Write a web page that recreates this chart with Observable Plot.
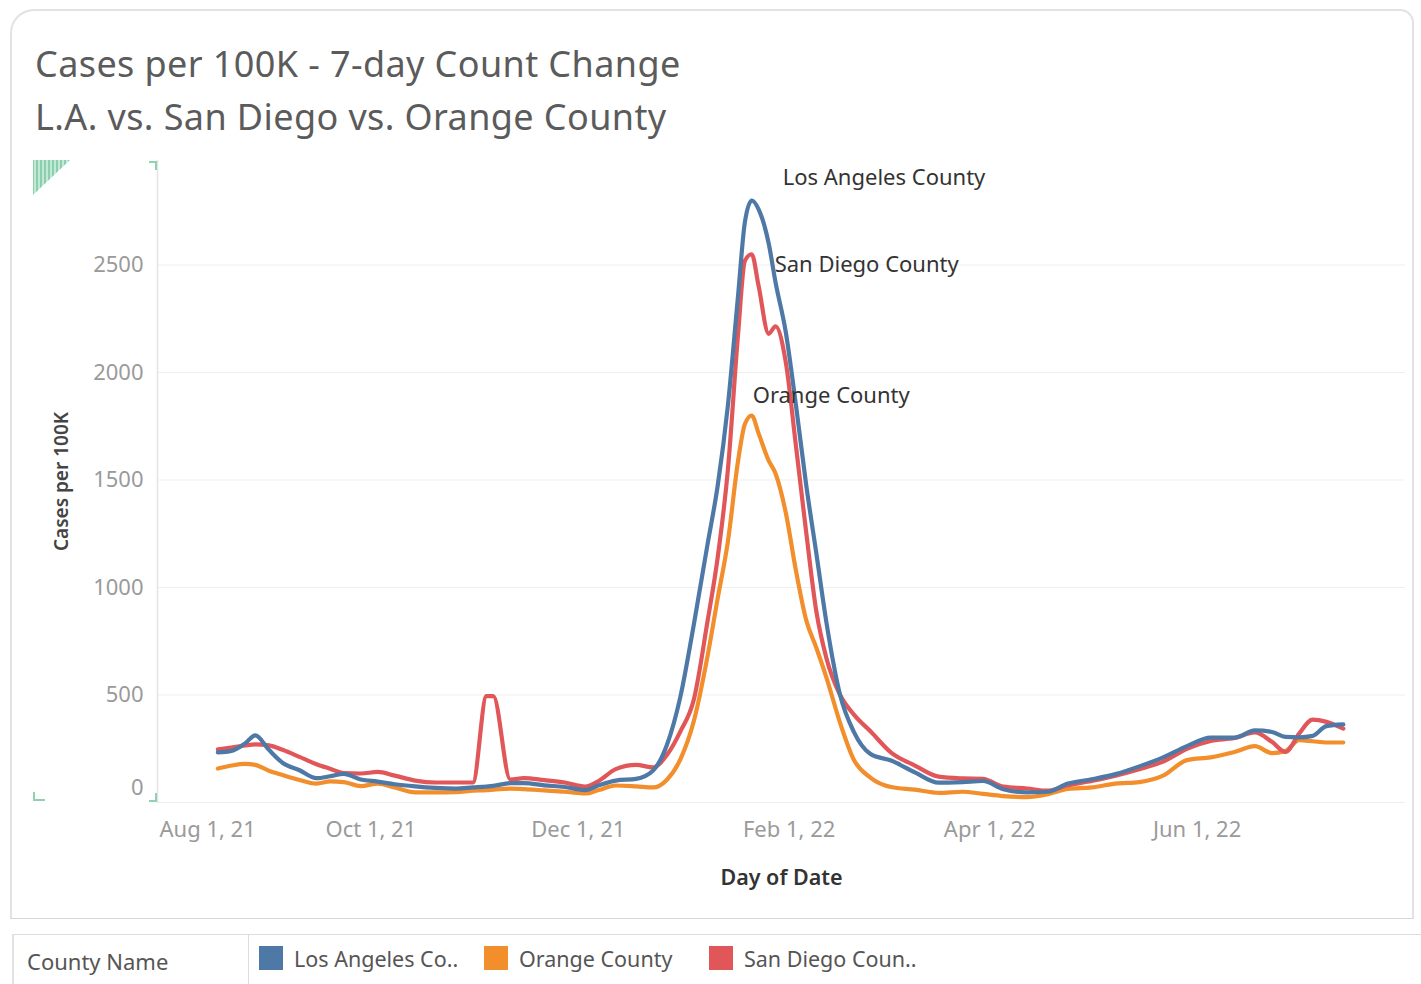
<!DOCTYPE html>
<html>
<head>
<meta charset="utf-8">
<script src="https://cdn.jsdelivr.net/npm/d3@7"></script>
<script src="https://cdn.jsdelivr.net/npm/@observablehq/plot@0.6"></script>
<style>
  html, body { margin: 0; padding: 0; background: #fff; }
  body { font-family: "Noto Sans", "Open Sans", sans-serif; }
  #wrap { position: relative; width: 1421px; height: 984px; overflow: hidden; background: #fff; }
  #card { position: absolute; left: 10px; top: 9px; width: 1404px; height: 910px;
          border: 2px solid #e2e2e2; border-bottom: 1px solid #d6d6d6; border-radius: 24px 14px 0 0; box-sizing: border-box; }
  #title { position: absolute; left: 35px; top: 37px; font-size: 36px; letter-spacing: 0.4px; line-height: 53px; color: #5b5b5b; white-space: nowrap; }
  #chart { position: absolute; left: 0; top: 150px; }
  #decor { position: absolute; left: 0; top: 0; }
  #legend { position: absolute; left: 12px; top: 934px; width: 1420px; height: 70px;
            border-top: 1px solid #dcdcdc; border-left: 2px solid #e2e2e2; border-radius: 0 0 0 16px; box-sizing: border-box; }
  #legend .name { position: absolute; left: 13px; top: 11px; font-size: 22px; color: #555; }
  #legend .sep { position: absolute; left: 234px; top: 0; width: 1px; height: 60px; background: #dcdcdc; }
  #legend .item { position: absolute; top: 10px; height: 26px; display: flex; align-items: center; font-size: 21.5px; color: #555; white-space: nowrap; }
  #legend .sw { width: 24px; height: 24px; margin-right: 11px; }
</style>
</head>
<body>
<div id="wrap">
  <div id="card"></div>
  <div id="title">Cases per 100K - 7-day Count Change<br>L.A. vs. San Diego vs. Orange County</div>
  <div id="chart"></div>
  <svg id="decor" width="1421" height="984">
    <defs>
      <pattern id="hatch" width="4" height="4" patternUnits="userSpaceOnUse">
        <rect width="4" height="4" fill="#c4e8d6"/>
        <line x1="1" y1="0" x2="1" y2="4" stroke="#7cc9a4" stroke-width="1.6"/>
      </pattern>
    </defs>
    <polygon points="33,160 70,160 33,195" fill="url(#hatch)"/>
    <path d="M149,162 H156 V170" fill="none" stroke="#8fd1b0" stroke-width="2"/>
    <path d="M149,801 H156 V793" fill="none" stroke="#8fd1b0" stroke-width="2"/>
    <path d="M34,792 V800 H45" fill="none" stroke="#8fd1b0" stroke-width="2"/>
  </svg>
  <div id="legend"><div class="name">County Name</div><div class="sep"></div></div>
</div>
<script>
// ---- data (7-day count change, cases per 100K) ----
const dates = [
  "2021-08-17","2021-08-21","2021-08-25","2021-08-28","2021-09-01","2021-09-05","2021-09-10","2021-09-15",
  "2021-09-19","2021-09-23","2021-09-28","2021-10-03","2021-10-08","2021-10-14","2021-10-20","2021-10-26",
  "2021-10-31","2021-11-04","2021-11-06","2021-11-11","2021-11-15","2021-11-21","2021-11-27","2021-12-03",
  "2021-12-07","2021-12-12","2021-12-18","2021-12-23","2021-12-27","2021-12-31","2022-01-04","2022-01-08",
  "2022-01-11","2022-01-14","2022-01-17","2022-01-19","2022-01-21","2022-01-23","2022-01-26","2022-01-28",
  "2022-01-31","2022-02-03","2022-02-06","2022-02-09","2022-02-12","2022-02-16","2022-02-20","2022-02-25",
  "2022-03-03","2022-03-10","2022-03-17","2022-03-24","2022-03-30","2022-04-05","2022-04-12","2022-04-18",
  "2022-04-24","2022-05-01","2022-05-08","2022-05-15","2022-05-22","2022-05-29","2022-06-05","2022-06-12",
  "2022-06-18","2022-06-23","2022-06-27","2022-07-01","2022-07-05","2022-07-09","2022-07-14"
];
const laValues = [
  233,240,275,312,245,185,150,113, 122,133,107,97,85,75,68,65,
  70,74,77,90,90,80,72,58, 80,102,110,149,265,490,830,1200,
  1474,1847,2360,2700,2800,2760,2600,2420, 2190,1850,1480,1160,835,500,330,225,
  195,140,92,95,100,62,47,50, 88,108,132,168,210,262,302,302,
  335,328,305,303,310,355,363
];
const ocValues = [
  158,172,180,175,148,128,105,88, 98,95,76,88,70,47,47,48,
  55,57,60,65,62,56,50,42, 58,79,75,70,105,200,380,680,
  950,1214,1590,1760,1800,1718,1590,1530, 1350,1080,850,720,580,370,200,115,
  72,60,45,50,40,30,25,38, 63,70,88,95,125,197,210,235,
  262,230,240,290,285,279,279
];
const sdValues = [
  247,255,265,270,266,245,212,178, 157,137,135,142,125,102,93,93,
  93,495,495,107,113,104,93,74, 100,155,175,163,220,330,480,842,
  1140,1549,2180,2520,2550,2405,2180,2215, 2050,1660,1260,890,670,500,410,330,
  232,172,120,112,110,74,65,55, 80,100,125,155,190,250,286,300,
  326,282,235,320,385,375,344
];
const counties = ["Los Angeles County", "Orange County", "San Diego County"];
const legendLabels = ["Los Angeles Co..", "Orange County", "San Diego Coun.."];
const countyColors = ["#4e79a7", "#f28e2b", "#e15759"];
const xTickDates = ["2021-08-01","2021-10-01","2021-12-01","2022-02-01","2022-04-01","2022-06-01"];
const xTickLabels = ["Aug 1, 21","Oct 1, 21","Dec 1, 21","Feb 1, 22","Apr 1, 22","Jun 1, 22"];
const yTicks = [0, 500, 1000, 1500, 2000, 2500];
const yTickLabels = ["0", "500", "1000", "1500", "2000", "2500"];
const xDomain = ["2021-07-30T05:40:00Z", "2022-08-01T07:00:00Z"];
const yMax = 2986;

// ---- build table ----
const seriesValues = {"Los Angeles County": laValues, "Orange County": ocValues, "San Diego County": sdValues};
const rowsFor = (c) => dates.map((d, i) => ({date: new Date(d), value: seriesValues[c][i], county: c}));
const laRows = rowsFor(counties[0]);
const ocRows = rowsFor(counties[1]);
const sdRows = rowsFor(counties[2]);
const xTicks = xTickDates.map(d => new Date(d));
const xLabel = (d) => xTickLabels[xTicks.findIndex(t => +t === +d)];
const yLabel = (v) => yTickLabels[yTicks.indexOf(v)];

const font = '"Noto Sans", "Open Sans", sans-serif';
const tickStyle = {tickSize: 0, fontSize: 22, fill: "#9a9a9a", label: null};
const lineStyle = {x: "date", y: "value", stroke: "county", strokeWidth: 4.2, curve: "monotone-x", strokeLinejoin: "round", strokeLinecap: "round"};
const labelStyle = {x: "date", y: "value", text: "county", fontSize: 22, fill: "#333", textAnchor: "start"};

const chart = Plot.plot({
  width: 1421,
  height: 760,
  marginTop: 10,
  marginBottom: 108,
  marginLeft: 157,
  marginRight: 16,
  style: {fontFamily: font, background: "transparent", overflow: "visible"},
  x: {type: "utc", domain: xDomain.map(d => new Date(d))},
  y: {domain: [0, yMax]},
  color: {domain: counties, range: countyColors},
  marks: [
    Plot.gridY(yTicks, {stroke: "#000", strokeOpacity: 0.065, strokeWidth: 1}),
    Plot.frame({anchor: "left", stroke: "#e4e4e4", strokeWidth: 1.5}),
    Plot.axisY(yTicks.slice(1), {...tickStyle, tickPadding: 14, tickFormat: yLabel}),
    Plot.axisY([yTicks[0]], {...tickStyle, tickPadding: 14, dy: -15, tickFormat: yLabel}),
    Plot.axisY({ticks: [], label: "Cases per 100K", labelAnchor: "center", labelArrow: "none", labelOffset: 103, fontSize: 19, fontWeight: 600, fill: "#444"}),
    Plot.axisX(xTicks.slice(1), {...tickStyle, tickPadding: 19, tickFormat: xLabel}),
    Plot.axisX([xTicks[0]], {...tickStyle, tickPadding: 19, tickFormat: xLabel, textAnchor: "start", dx: -4}),
    Plot.axisX({ticks: [], label: "Day of Date", labelAnchor: "center", labelArrow: "none", labelOffset: 82, fontSize: 21.5, fontWeight: 600, fill: "#333"}),
    Plot.line(ocRows, lineStyle),
    Plot.line(sdRows, lineStyle),
    Plot.line(laRows, lineStyle),
    Plot.text(laRows, Plot.selectMaxY({...labelStyle, dx: 31, dy: -23})),
    Plot.text(sdRows, Plot.selectMaxY({...labelStyle, dx: 23, dy: 11})),
    Plot.text(ocRows, Plot.selectMaxY({...labelStyle, dx: 1, dy: -20}))
  ]
});
document.getElementById("chart").appendChild(chart);

// ---- legend ----
const legend = document.getElementById("legend");
counties.forEach((c, i) => {
  const item = document.createElement("div");
  item.className = "item";
  item.style.left = (245 + i * 225) + "px";
  const sw = document.createElement("div");
  sw.className = "sw";
  sw.style.background = countyColors[i];
  const tx = document.createElement("span");
  tx.textContent = legendLabels[i];
  item.appendChild(sw);
  item.appendChild(tx);
  legend.appendChild(item);
});
</script>
</body>
</html>
